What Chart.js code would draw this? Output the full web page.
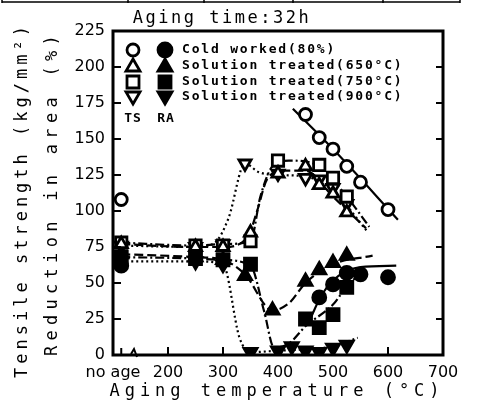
<!DOCTYPE html>
<html>
<head>
<meta charset="utf-8">
<script src="https://cdn.jsdelivr.net/npm/chart.js@4.4.0/dist/chart.umd.min.js"></script>
<style>
  html, body { margin: 0; background: #fff; }
</style>
</head>
<body>
<canvas id="myChart" width="480" height="409"></canvas>
<script>
// x position used for the "no age" specimens
const noAge = 115;

// tick labels
const xTickLabels = { 100: 'no age' };

// Cold worked (80%)
const coldTemps = [noAge, 450, 475, 500, 525, 550, 600];
const coldTS = [108, 167, 151, 143, 131, 120, 101];
const coldRATemps = [noAge, 475, 500, 525, 550, 600];
const coldRA = [62, 40, 49, 57, 56, 54];
const coldTSCurveT = [427, 500, 618];
const coldTSCurve = [171, 143, 94];
const coldRACurveT = [455, 480, 510, 550, 615];
const coldRACurve = [22, 42, 55, 61, 62];

// Solution treated (650 C)
const st650Temps = [noAge, 250, 300, 350, 400, 450, 475, 500, 525];
const st650TS = [77, 75, 75, 85, 126, 131, 118, 112, 99];
const st650RATemps = [noAge, 250, 300, 340, 390, 450, 475, 500, 525];
const st650RA = [70, 68, 66, 55, 31, 51, 59, 64, 69];
const st650TSCurveT = [noAge, 250, 300, 345, 362, 380, 410, 450, 500, 560];
const st650TSCurve = [77, 75, 75, 82, 100, 122, 128, 128, 110, 88];
const st650RACurveT = [noAge, 250, 300, 340, 390, 420, 450, 500, 572];
const st650RACurve = [70, 68, 66, 56, 31, 36, 50, 63, 69];

// Solution treated (750 C)
const st750Temps = [noAge, 250, 300, 350, 400, 475, 500, 525];
const st750TS = [78, 76, 76, 79, 135, 132, 123, 110];
const st750RATemps = [noAge, 250, 300, 350, 450, 475, 500, 525];
const st750RA = [68, 67, 66, 63, 25, 19, 28, 47];
const st750TSCurveT = [noAge, 250, 300, 350, 368, 390, 420, 475, 525, 566];
const st750TSCurve = [78, 76, 77, 79, 110, 131, 135, 131, 110, 89];
const st750RACurveT = [noAge, 250, 300, 350, 375, 393, 420, 450, 500, 530, 560];
const st750RACurve = [68, 67, 66, 62, 30, 5, 8, 20, 35, 50, 58];

// Solution treated (900 C)
const st900Temps = [noAge, 250, 300, 340, 400, 450, 475, 500, 525];
const st900TS = [76, 75, 77, 133, 126, 123, 122, 116, 105];
const st900RATemps = [noAge, 250, 300, 350, 400, 425, 450, 475, 500, 525];
const st900RA = [65, 65, 63, 2, 3, 6, 3, 2, 5, 7];
const st900TSCurveT = [noAge, 250, 285, 310, 340, 365, 400, 450, 500, 562];
const st900TSCurve = [76, 75, 78, 95, 133, 127, 125, 124, 114, 86];
const st900RACurveT = [noAge, 250, 300, 330, 350, 400, 450, 500, 545];
const st900RACurve = [65, 65, 63, 12, 2, 3, 4, 6, 12];

const BLACK = '#000';
const dashes = { cold: [], st650: [9, 4], st750: [9, 3, 2, 3], st900: [2, 3] };

function pts(xs, ys) {
  return xs.map((x, i) => ({ x: x, y: ys[i] }));
}

function curve(xs, ys, dash) {
  return {
    type: 'line',
    data: pts(xs, ys),
    borderColor: BLACK,
    borderWidth: 2.2,
    borderDash: dash,
    pointRadius: 0,
    cubicInterpolationMode: 'monotone',
    fill: false,
    order: 2
  };
}

function marks(xs, ys, style, filled, radius, rotation) {
  return {
    type: 'line',
    data: pts(xs, ys),
    showLine: false,
    pointStyle: style,
    pointRotation: rotation || 0,
    pointRadius: radius,
    pointBackgroundColor: filled ? BLACK : '#fff',
    pointBorderColor: BLACK,
    pointBorderWidth: 2.8,
    order: 1
  };
}

const datasets = [
  curve(coldTSCurveT, coldTSCurve, dashes.cold),
  curve(coldRACurveT, coldRACurve, dashes.cold),
  curve(st650TSCurveT, st650TSCurve, dashes.st650),
  curve(st650RACurveT, st650RACurve, dashes.st650),
  curve(st750TSCurveT, st750TSCurve, dashes.st750),
  curve(st750RACurveT, st750RACurve, dashes.st750),
  curve(st900TSCurveT, st900TSCurve, dashes.st900),
  curve(st900RACurveT, st900RACurve, dashes.st900),
  marks(coldTemps, coldTS, 'circle', false, 6),
  marks(coldRATemps, coldRA, 'circle', true, 6.5),
  marks(st650Temps, st650TS, 'triangle', false, 7),
  marks(st650RATemps, st650RA, 'triangle', true, 7.5),
  marks(st750Temps, st750TS, 'rect', false, 8),
  marks(st750RATemps, st750RA, 'rect', true, 8.5),
  marks(st900Temps, st900TS, 'triangle', false, 7, 180),
  marks(st900RATemps, st900RA, 'triangle', true, 7.5, 180)
];

const MONO = '"DejaVu Sans Mono", monospace';

// draw a legend marker by hand
function drawMark(ctx, kind, x, y, filled) {
  ctx.save();
  ctx.lineWidth = 2.8;
  ctx.strokeStyle = BLACK;
  ctx.fillStyle = filled ? BLACK : '#fff';
  ctx.beginPath();
  if (kind === 'circle') {
    ctx.arc(x, y, filled ? 7 : 6, 0, Math.PI * 2);
  } else if (kind === 'up') {
    ctx.moveTo(x, y - 7); ctx.lineTo(x + 7, y + 5); ctx.lineTo(x - 7, y + 5); ctx.closePath();
  } else if (kind === 'down') {
    ctx.moveTo(x, y + 7); ctx.lineTo(x + 7, y - 5); ctx.lineTo(x - 7, y - 5); ctx.closePath();
  } else {
    ctx.rect(x - 6, y - 6, 12, 12);
  }
  ctx.fill();
  ctx.stroke();
  ctx.restore();
}

function spacedText(ctx, text, x, y, font, spacing, align) {
  ctx.save();
  ctx.font = font;
  ctx.letterSpacing = spacing + 'px';
  ctx.textAlign = align || 'center';
  ctx.textBaseline = 'middle';
  ctx.fillStyle = BLACK;
  ctx.fillText(text, x, y);
  ctx.restore();
}

const decorPlugin = {
  id: 'decor',
  afterDraw(chart) {
    const ctx = chart.ctx;
    const a = chart.chartArea;
    const xs = chart.scales.x;
    const ys = chart.scales.y;

    // cropped table edge at the very top
    ctx.save();
    ctx.strokeStyle = BLACK;
    ctx.lineWidth = 1.5;
    ctx.beginPath();
    ctx.moveTo(2, 2); ctx.lineTo(460, 2);
    [2, 128, 204, 293, 383, 460].forEach(px => { ctx.moveTo(px, 0); ctx.lineTo(px, 3); });
    ctx.stroke();
    ctx.restore();

    // frame
    ctx.save();
    ctx.strokeStyle = BLACK;
    ctx.lineWidth = 3;
    ctx.strokeRect(a.left, a.top, a.right - a.left, a.bottom - a.top);

    // inward ticks
    ctx.lineWidth = 2;
    ctx.beginPath();
    ys.ticks.forEach(t => {
      const py = ys.getPixelForValue(t.value);
      ctx.moveTo(a.left, py); ctx.lineTo(a.left + 8, py);
      ctx.moveTo(a.right, py); ctx.lineTo(a.right - 7, py);
    });
    xs.ticks.forEach(t => {
      if (t.value <= 100 || t.value >= 700) return;
      const px = xs.getPixelForValue(t.value);
      ctx.moveTo(px, a.bottom); ctx.lineTo(px, a.bottom - 8);
    });
    const pn = xs.getPixelForValue(noAge);
    ctx.moveTo(pn, a.bottom); ctx.lineTo(pn, a.bottom - 7);
    ctx.stroke();
    // axis break mark
    const pb = xs.getPixelForValue(140);
    ctx.beginPath();
    ctx.moveTo(pb - 4, a.bottom - 1);
    ctx.lineTo(pb - 1, a.bottom - 6);
    ctx.lineTo(pb + 2, a.bottom + 2);
    ctx.stroke();
    ctx.restore();

    // title
    spacedText(ctx, 'Aging time:32h', 222, 19, '17px ' + MONO, 2.5);

    // axis titles
    spacedText(ctx, 'Aging temperature (°C)', 277, 392, '17px ' + MONO, 5);
    ctx.save();
    ctx.translate(23, 200);
    ctx.rotate(-Math.PI / 2);
    spacedText(ctx, 'Tensile strength (kg/mm²)', 0, 0, '17px ' + MONO, 4);
    ctx.restore();
    ctx.save();
    ctx.translate(53, 193);
    ctx.rotate(-Math.PI / 2);
    spacedText(ctx, 'Reduction in area (%)', 0, 0, '17px ' + MONO, 5.3);
    ctx.restore();

    // legend
    const rows = [
      ['circle', 'Cold worked(80%)', 50],
      ['up', 'Solution treated(650°C)', 66],
      ['square', 'Solution treated(750°C)', 82],
      ['down', 'Solution treated(900°C)', 97]
    ];
    rows.forEach(r => {
      drawMark(ctx, r[0], 133, r[2], false);
      drawMark(ctx, r[0], 165, r[2], true);
      spacedText(ctx, r[1], 182, r[2], 'bold 13px ' + MONO, 1.8, 'left');
    });
    spacedText(ctx, 'TS', 133, 119, 'bold 13px ' + MONO, 1);
    spacedText(ctx, 'RA', 166, 119, 'bold 13px ' + MONO, 1);
  }
};

const ctx = document.getElementById('myChart').getContext('2d');
const myChart = new Chart(ctx, {
  type: 'line',
  data: { datasets: datasets },
  options: {
    responsive: false,
    animation: false,
    events: [],
    layout: { padding: { top: 31, right: 37, left: 0, bottom: 0 } },
    plugins: { legend: { display: false }, tooltip: { enabled: false } },
    scales: {
      x: {
        type: 'linear',
        min: 100,
        max: 700,
        grid: { display: false, drawTicks: false },
        border: { display: false },
        ticks: {
          stepSize: 100,
          autoSkip: false,
          padding: 8,
          color: BLACK,
          maxRotation: 0,
          font: { family: 'DejaVu Sans', size: 16 },
          callback: v => xTickLabels[v] || String(v)
        },
        afterFit: s => { s.height = 54; }
      },
      y: {
        min: 0,
        max: 225,
        grid: { display: false, drawTicks: false },
        border: { display: false },
        ticks: {
          stepSize: 25,
          padding: 8,
          color: BLACK,
          font: { family: 'DejaVu Sans', size: 16 }
        },
        afterFit: s => { s.width = 113; }
      }
    }
  },
  plugins: [decorPlugin]
});
</script>
</body>
</html>
